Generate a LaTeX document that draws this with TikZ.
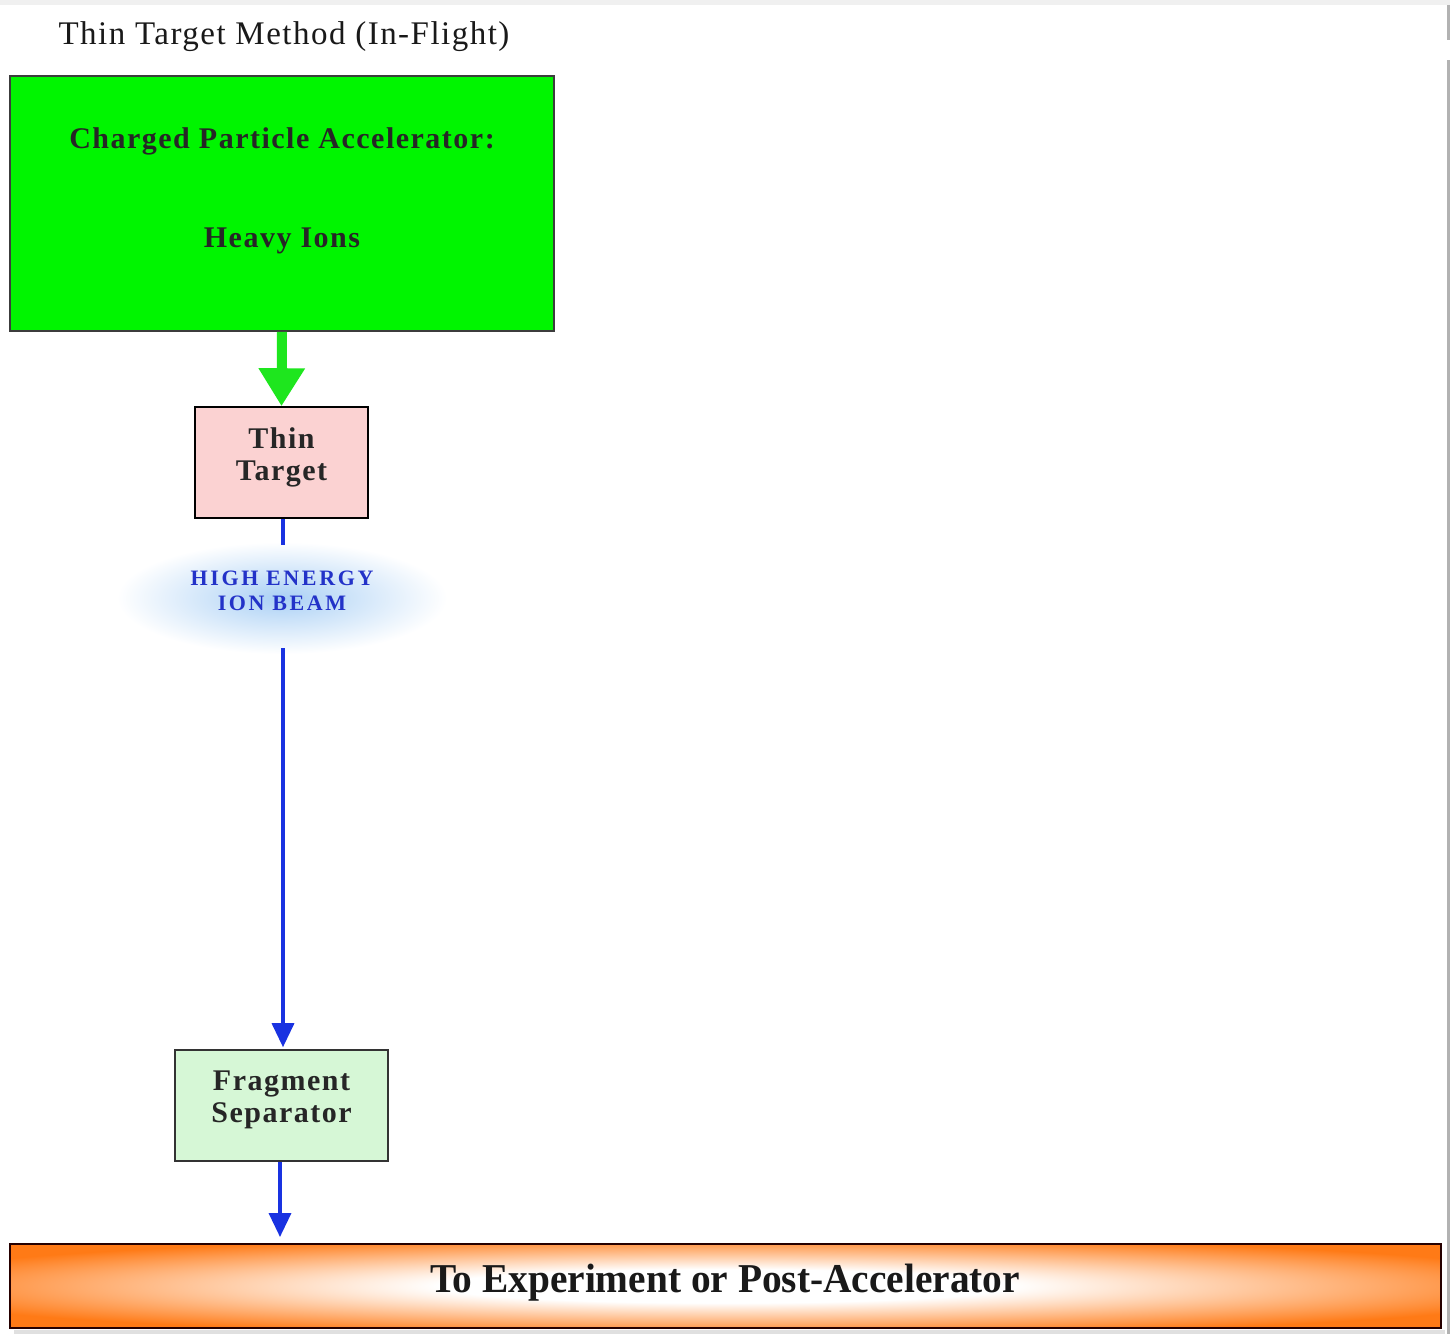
\documentclass[tikz,border=0pt]{standalone}
\usepackage{fontspec}
\setmainfont{Liberation Serif}
\newfontfamily\widefont[LetterSpace=5]{Liberation Serif}
\newfontfamily\titlefont[LetterSpace=4.5]{Liberation Serif}
\newfontfamily\capsfont[LetterSpace=12]{Liberation Serif}
\usetikzlibrary{arrows.meta}

\definecolor{accelgreen}{RGB}{0,245,0}
\definecolor{arrowgreen}{RGB}{30,230,30}
\definecolor{targetpink}{RGB}{251,210,210}
\definecolor{sepgreen}{RGB}{214,247,214}
\definecolor{beamblue}{RGB}{25,50,225}
\definecolor{labelblue}{RGB}{35,50,200}
\definecolor{glowblue}{RGB}{170,208,245}
\definecolor{bannerorange}{RGB}{255,122,22}
\definecolor{frameline}{RGB}{60,60,60}

% white plateau in the middle of the banner, orange towards the rim
\pgfdeclareradialshading{bannerglow}{\pgfpoint{0bp}{0bp}}{%
  color(0bp)=(white); color(10bp)=(white); color(19bp)=(bannerorange!45);
  color(30bp)=(bannerorange); color(50bp)=(bannerorange)}

\tikzset{
  block/.style={draw=frameline, line width=1.6pt, inner sep=0pt},
  boxtext/.style={font=\widefont\bfseries\fontsize{30}{32}\selectfont, align=center, text=black!85},
  greenflow/.style={draw=arrowgreen, line width=10pt, -{Triangle[width=44pt,length=38pt]}},
  beam/.style={draw=beamblue, line width=3.5pt},
  beamarrow/.style={beam, -{Triangle[width=22pt,length=24pt]}},
}

\begin{document}
\begin{tikzpicture}[x=1pt,y=-1pt]
\useasboundingbox (0,0) rectangle (1450,1334);
\fill[white] (0,0) rectangle (1450,1334);

% page frame
\fill[black!6] (0,0) rectangle (1450,5);
\draw[black!30, line width=3pt] (1448,5) -- (1448,40);
\draw[black!30, line width=3pt] (1448,60) -- (1448,1334);

% title
\node[font=\titlefont\fontsize{33}{36}\selectfont, text=black!90] (title) at (284,37) {Thin Target Method (In-Flight)};

% accelerator
\node[block, fill=accelgreen, minimum width=544pt, minimum height=255pt] (accel) at (282,203.5) {};
\node[font=\widefont\bfseries\fontsize{30}{99}\selectfont, align=center, text=black!85] (acceltext) at (282,191)
  {Charged Particle Accelerator:\\Heavy Ions};

% thin target
\node[block, draw=black, fill=targetpink, minimum width=173pt, minimum height=111pt] (target) at (281.5,462.5) {};
\node[boxtext] (targettext) at (281.5,457) {Thin\\Target};

% beam label with glow
\shade[inner color=glowblue, outer color=white] (282,598) ellipse [x radius=165pt, y radius=56pt];
\node[font=\capsfont\bfseries\fontsize{22}{25}\selectfont, align=center, text=labelblue] (beamlabel) at (282,591)
  {HIGH\hspace{0.35em}ENERGY\\ION\hspace{0.35em}BEAM};
\coordinate (beamtop) at (283,545);
\coordinate (beamlow) at (283,648);

% fragment separator
\node[block, draw=black!80, fill=sepgreen, minimum width=213pt, minimum height=111pt] (frag) at (281.5,1105.5) {};
\node[boxtext] (fragtext) at (281.5,1100) {Fragment\\Separator};

% destination banner
\fill[black!12] (14,1330) rectangle (1445,1334);
\node[block, draw=black!85!red, shading=bannerglow, minimum width=1431pt, minimum height=84pt] (dest) at (725.5,1286) {};
\node[font=\bfseries\fontsize{41}{44}\selectfont, text=black!90, xscale=0.96] (desttext) at (725,1283)
  {To Experiment or Post-Accelerator};

% connectors
\draw[greenflow] (accel.south) -- (target.north);
\draw[beam] (target.south -| beamtop) -- (beamtop);
\draw[beamarrow, shorten >=2pt] (beamlow) -- (beamlow |- frag.north);
\draw[beamarrow, shorten >=7pt] (frag.south -| 280,0) -- (280,1244);
\end{tikzpicture}
\end{document}
